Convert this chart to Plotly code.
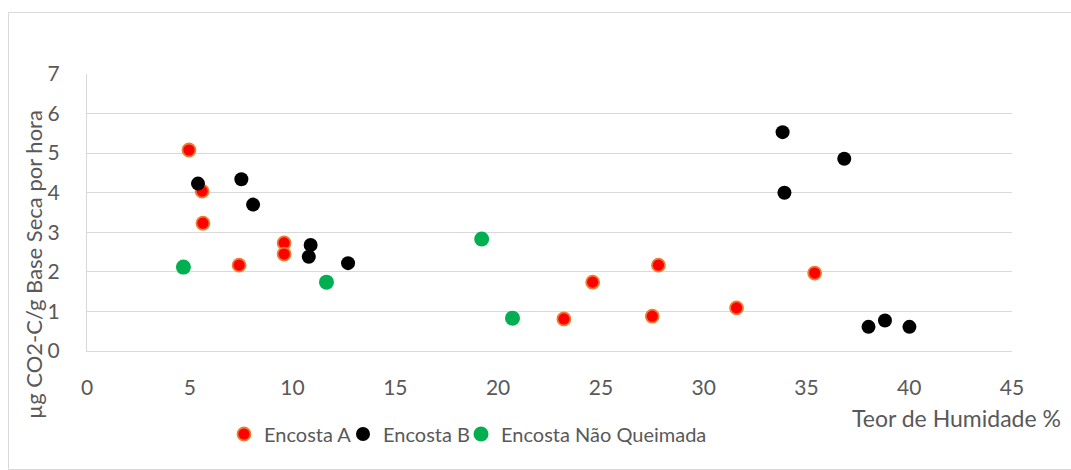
import plotly.graph_objects as go

# Teor de Humidade (%) e respiração (µg CO2-C/g base seca por hora)
encosta_a_x = [4.96, 5.60, 5.64, 7.40, 9.59, 9.59, 23.2, 24.6, 27.5, 27.8, 31.6, 35.4]
encosta_a_y = [5.08, 4.04, 3.23, 2.17, 2.73, 2.45, 0.81, 1.74, 0.88, 2.17, 1.09, 1.97]

encosta_b_x = [5.40, 7.51, 8.08, 10.88, 10.79, 12.70, 33.84, 36.84, 33.93, 38.02, 38.82, 40.01]
encosta_b_y = [4.23, 4.34, 3.70, 2.68, 2.38, 2.22, 5.53, 4.86, 4.00, 0.61, 0.77, 0.61]

nao_queimada_x = [4.69, 11.65, 19.2, 20.7]
nao_queimada_y = [2.12, 1.74, 2.83, 0.83]

x_ticks = [0, 5, 10, 15, 20, 25, 30, 35, 40, 45]
y_ticks = [0, 1, 2, 3, 4, 5, 6, 7]

FONT = "Lato"
TEXT = "#595959"
GRID = "#D9D9D9"

fig = go.Figure()
fig.add_trace(go.Scatter(
    x=encosta_a_x, y=encosta_a_y, mode="markers", name="Encosta A", legend="legend",
    marker=dict(size=13, color="#FF0000", line=dict(color="#ED7D31", width=1.8)),
))
fig.add_trace(go.Scatter(
    x=encosta_b_x, y=encosta_b_y, mode="markers", name="Encosta B", legend="legend2",
    marker=dict(size=14, color="#000000", line=dict(width=0)),
))
fig.add_trace(go.Scatter(
    x=nao_queimada_x, y=nao_queimada_y, mode="markers", name="Encosta Não Queimada",
    legend="legend3",
    marker=dict(size=15, color="#00B050", line=dict(width=0)),
))

W, H = 1071, 470
L, R, T, B = 87, 59, 74, 119
pw, ph = W - L - R, H - T - B


def px_x(p):
    return (p - L) / pw


def px_y(p):
    return (H - B - p) / ph


def legend_at(marker_px):
    # one legend box per series, placed by its marker position
    return dict(
        orientation="h", x=px_x(marker_px - 20), y=px_y(434),
        xanchor="left", yanchor="middle", itemwidth=30,
        font=dict(family=FONT, size=20, color=TEXT), bgcolor="rgba(0,0,0,0)",
    )


fig.update_layout(
    width=W, height=H,
    margin=dict(l=L, r=R, t=T, b=B),
    paper_bgcolor="white", plot_bgcolor="white",
    font=dict(family=FONT, size=20, color=TEXT),
    showlegend=True,
    legend=legend_at(244),
    legend2=legend_at(363),
    legend3=legend_at(481),
    xaxis=dict(
        range=[0, 45], tickvals=x_ticks, showgrid=False, zeroline=False,
        showline=True, linecolor=GRID, linewidth=1,
        ticks="outside", ticklen=0, ticklabelstandoff=18,
        tickfont=dict(family=FONT, size=21, color=TEXT), fixedrange=True,
    ),
    yaxis=dict(
        range=[0, 7], tickvals=y_ticks, showgrid=True, gridcolor=GRID, gridwidth=1,
        zeroline=False, showline=True, linecolor=GRID, linewidth=1,
        ticks="outside", ticklen=0, ticklabelstandoff=22,
        tickfont=dict(family=FONT, size=21, color=TEXT), fixedrange=True,
    ),
    annotations=[
        dict(text="Teor de Humidade %", xref="paper", yref="paper",
             x=px_x(850), y=px_y(418), xanchor="left", yanchor="middle",
             showarrow=False, font=dict(family=FONT, size=23, color=TEXT)),
        dict(text="µg CO2-C/g Base Seca por hora", xref="paper", yref="paper",
             x=px_x(33), y=px_y(265), xanchor="center", yanchor="middle",
             textangle=-90, showarrow=False,
             font=dict(family=FONT, size=22, color=TEXT)),
    ],
    shapes=[
        dict(type="rect", xref="paper", yref="paper",
             x0=px_x(8.5), x1=px_x(1100), y0=px_y(469.5), y1=px_y(12.5),
             line=dict(color=GRID, width=1), fillcolor="rgba(0,0,0,0)", layer="below"),
    ],
)

fig.write_html("out.html")
